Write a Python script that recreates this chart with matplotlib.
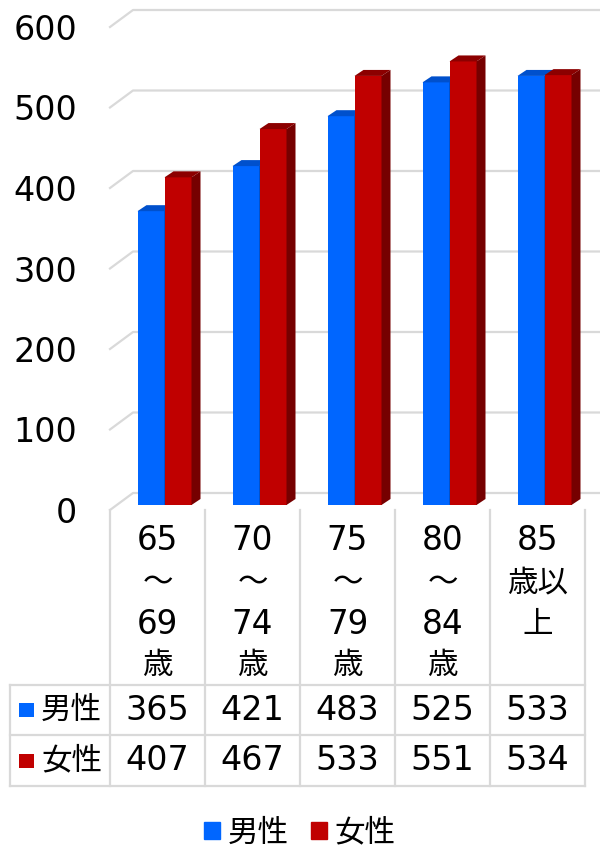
import matplotlib
matplotlib.use("Agg")
import matplotlib.pyplot as plt
from matplotlib.patches import Polygon, Rectangle, Patch

plt.rcParams['font.family'] = ['DejaVu Sans', 'Noto Sans CJK JP']

# 年齢階級と男女別の値
categories = ['65\n～\n69\n歳', '70\n～\n74\n歳', '75\n～\n79\n歳', '80\n～\n84\n歳', '85\n歳以\n上']
male = [365, 421, 483, 525, 533]
female = [407, 467, 533, 551, 534]
series_names = ['男性', '女性']
yticks = [0, 100, 200, 300, 400, 500, 600]

front_colors = ['#0066FF', '#C00000']
top_colors = ['#0050CC', '#8C0000']
side_colors = ['#0040A0', '#760000']
grid_color = '#D9D9D9'

W, H = 600, 849
fig = plt.figure(figsize=(W / 100, H / 100), dpi=100)

# 描画領域（ピクセル単位の配置）
px_left, px_zero = 110, 510
col_w = 95
px_per_unit = 0.805
ax = fig.add_axes([px_left / W, (H - px_zero) / H, (W - px_left) / W, px_zero / H])
xmax = -0.5 + (W - px_left) / col_w
ax.set_xlim(-0.5, xmax)
ax.set_ylim(0, px_zero / px_per_unit)
ax.axis('off')

# 奥の壁の目盛線（斜めの線付き）
wall_dx, wall_dy = 23 / col_w, 17 / px_per_unit
for v in yticks:
    ax.plot([-0.5, -0.5 + wall_dx, xmax], [v, v + wall_dy, v + wall_dy],
            color=grid_color, lw=1.6, clip_on=False, zorder=1)
    ax.text(-0.5 - 33 / col_w, v, str(v), ha='right', va='center_baseline',
            fontsize=24, color='black')

# 3D風の棒
bw = 27 / col_w
bx, by = 7 / col_w, 5 / px_per_unit
dx, dy = 9 / col_w, 6 / px_per_unit
for i in range(len(categories)):
    for s, vals in enumerate([male, female]):
        v = vals[i]
        x0 = i - bw + s * bw + bx
        z = 3 + s
        ax.bar(x0, v, width=bw, bottom=by, align='edge', color=front_colors[s],
               linewidth=0, zorder=z)
        top = [(x0, by + v), (x0 + dx, by + v + dy), (x0 + bw + dx, by + v + dy), (x0 + bw, by + v)]
        side = [(x0 + bw, by), (x0 + bw + dx, by + dy), (x0 + bw + dx, by + v + dy), (x0 + bw, by + v)]
        ax.add_patch(Polygon(top, closed=True, color=top_colors[s], lw=0, zorder=z))
        ax.add_patch(Polygon(side, closed=True, color=side_colors[s], lw=0, zorder=z))

# データテーブル
ov = fig.add_axes([0, 0, 1, 1])
ov.set_xlim(0, W)
ov.set_ylim(H, 0)
ov.axis('off')
ov.patch.set_alpha(0)

row_top, row1, row2, row3 = 510, 685, 735, 786
col_edges = [px_left + col_w * k for k in range(len(categories) + 1)]
for x in col_edges:
    ov.plot([x, x], [row_top, row3], color=grid_color, lw=1.6)
ov.plot([10, 10], [row1, row3], color=grid_color, lw=1.6)
for y in [row1, row2, row3]:
    ov.plot([10, col_edges[-1]], [y, y], color=grid_color, lw=1.6)

line_h = 41.5
for i, cat in enumerate(categories):
    cx = px_left + col_w * (i + 0.5)
    for k, line in enumerate(cat.split('\n')):
        ov.text(cx, 541 + line_h * k, line, ha='center', va='center',
                fontsize=23.5 if line.isdigit() else 22)
    ov.text(cx, (row1 + row2) / 2, str(male[i]), ha='center', va='center', fontsize=24)
    ov.text(cx, (row2 + row3) / 2, str(female[i]), ha='center', va='center', fontsize=24)

for s, (y0, y1) in enumerate([(row1, row2), (row2, row3)]):
    yc = (y0 + y1) / 2
    ov.add_patch(Rectangle((19, yc - 7), 15, 14, color=front_colors[s], lw=0))
    ov.text(41, yc, series_names[s], ha='left', va='center', fontsize=22)

# 凡例
handles = [Patch(color=c) for c in front_colors]
fig.legend(handles, series_names, loc='center', bbox_to_anchor=(0.5, (H - 833) / H),
           ncol=2, frameon=False, fontsize=22, handlelength=0.5, handleheight=0.5,
           handletextpad=0.26, columnspacing=0.75)

fig.savefig('out.png', dpi=100)
